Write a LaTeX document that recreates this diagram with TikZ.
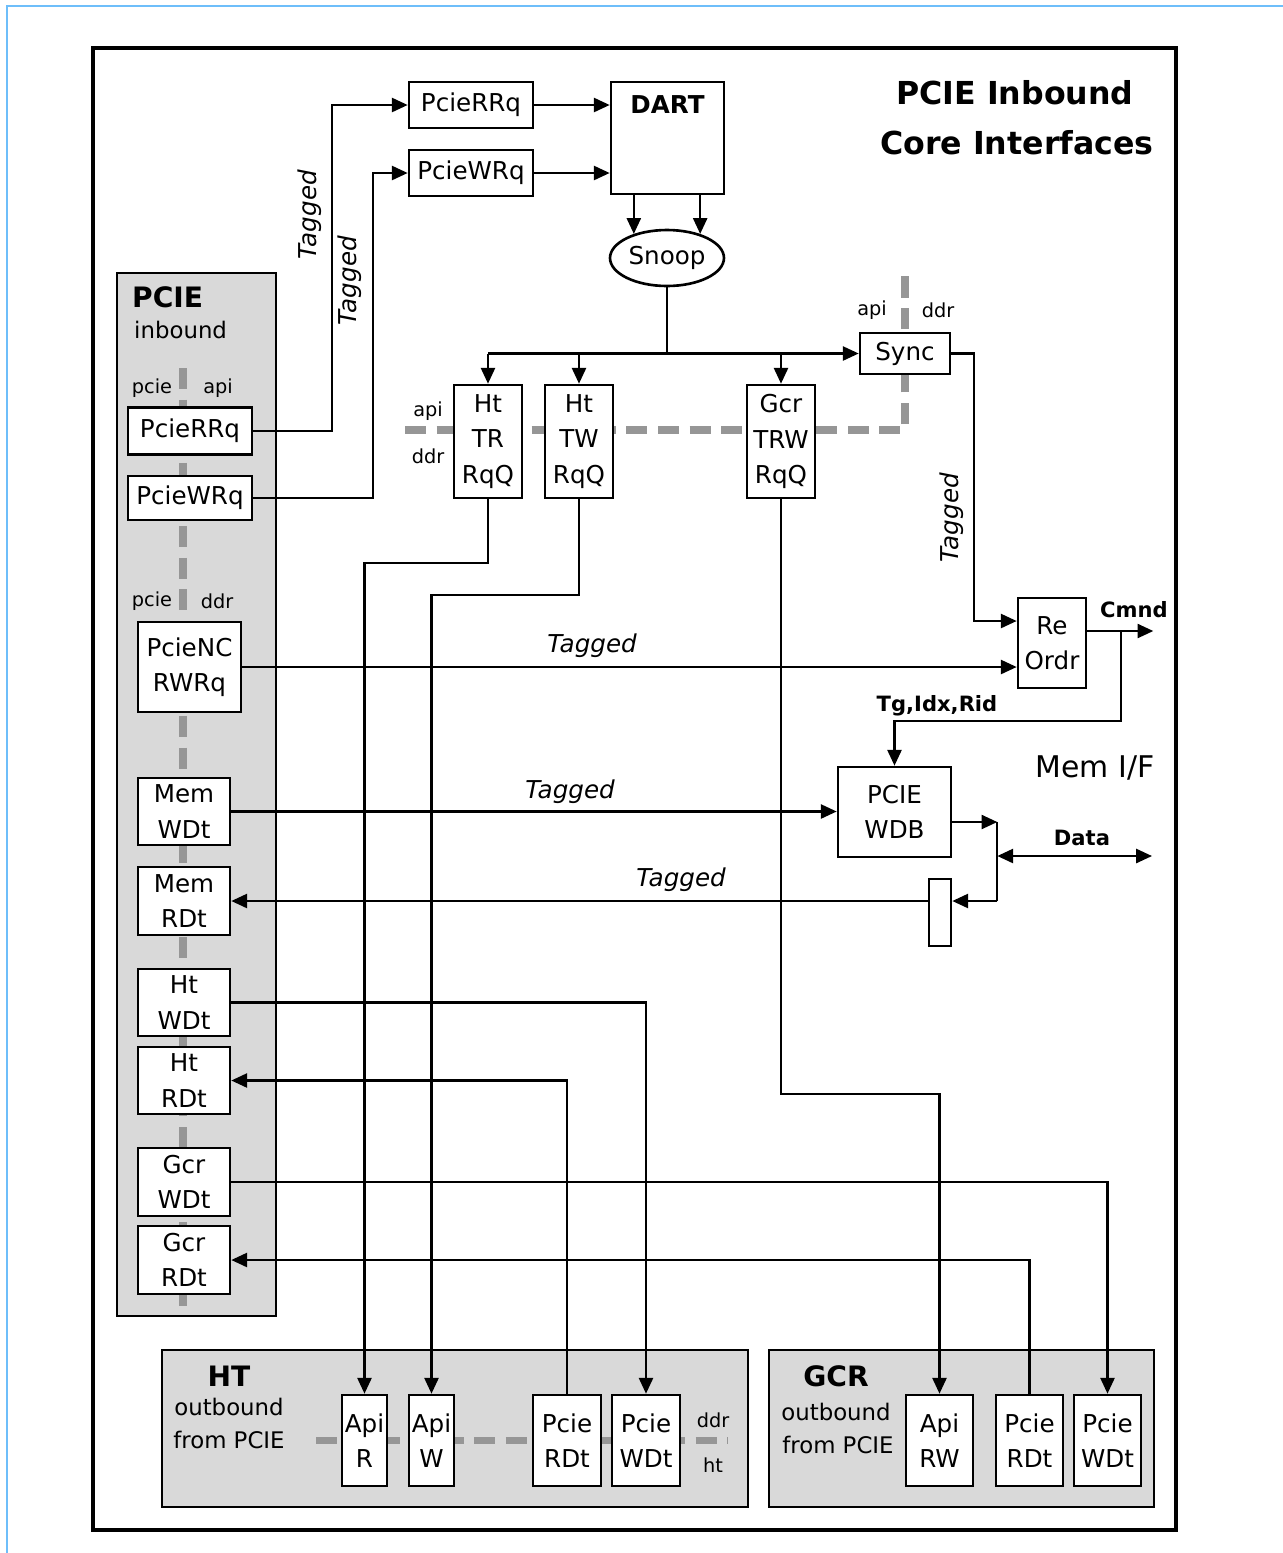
\documentclass[tikz,border=0pt]{standalone}
\usepackage{fontspec}
\setmainfont{DejaVu Sans}
\usepackage{xcolor}
\usetikzlibrary{shapes.geometric, arrows.meta, positioning, calc}
\definecolor{panelgray}{RGB}{217,217,217}
\definecolor{divgray}{RGB}{150,150,150}
\definecolor{edgeblue}{RGB}{110,190,250}

\begin{document}
\begin{tikzpicture}[x=0.02cm, y=-0.02cm,
  box/.style={draw, line width=1.5pt, fill=white, inner sep=0pt, align=center, font=\fontsize{14}{20}\selectfont},
  panel/.style={draw, line width=1.5pt, fill=panelgray},
  wire/.style={line width=1.3pt},
  arr/.style={wire, -{Triangle[length=9pt,width=8pt]}},
  divider/.style={divgray, line width=4pt, dash pattern=on 12pt off 6pt},
  side/.style={font=\fontsize{11}{13}\selectfont},
  tag/.style={font=\fontsize{14}{16}\selectfont\itshape},
  sig/.style={font=\fontsize{12}{14}\selectfont\bfseries},
  grp/.style={font=\fontsize{13}{15}\selectfont}]
  \useasboundingbox (0,0) rectangle (1283,1553);
  % Page edges and frame
  \draw[edgeblue, line width=1.2pt] (7,1553) -- (7,6) -- (1283,6);
  \draw[line width=1.8pt] (93,48) rectangle (1176,1530);

  % Regions
  \draw[panel] (117,273) rectangle (276,1316);
  \draw[panel] (162,1350) rectangle (748,1507);
  \draw[panel] (769,1350) rectangle (1154,1507);

  % Clock domain boundaries
  \draw[divider] (183,368) -- (183,1310);
  \draw[divider] (405,430) -- (905,430) -- (905,268);
  \draw[divider] (316,1440) -- (728,1440);

  % Title
  \node[font=\fontsize{18}{22}\selectfont\bfseries] (title1) at (1015,93) {PCIE Inbound};
  \node[font=\fontsize{18}{22}\selectfont\bfseries] (title2) at (1017,143) {Core Interfaces};

  % PCIE inbound column
  \node[font=\fontsize{16}{18}\selectfont\bfseries, anchor=west] (pcieT) at (126,297) {PCIE};
  \node[grp, anchor=west] (pcieS) at (128,330) {inbound};
  \node[side] (s1) at (152,388) {pcie};
  \node[side] (s2) at (218,388) {api};
  \node[side] (s3) at (152,601) {pcie};
  \node[side] (s4) at (217,601) {ddr};
  \node[box, minimum width=2.48cm, minimum height=0.94cm] (lRRq) at (190,431) {PcieRRq};
  \node[box, minimum width=2.48cm, minimum height=0.88cm] (lWRq) at (190,498) {PcieWRq};
  \node[box, minimum width=2.06cm, minimum height=1.8cm] (lNC) at (189.5,667) {PcieNC\\RWRq};
  \node[box, minimum width=1.84cm, minimum height=1.34cm] (memW) at (184,811.5) {Mem\\WDt};
  \node[box, minimum width=1.84cm, minimum height=1.36cm] (memR) at (184,901) {Mem\\RDt};
  \node[box, minimum width=1.84cm, minimum height=1.34cm] (htW) at (184,1002.5) {Ht\\WDt};
  \node[box, minimum width=1.84cm, minimum height=1.34cm] (htR) at (184,1080.5) {Ht\\RDt};
  \node[box, minimum width=1.84cm, minimum height=1.36cm] (gcrW) at (184,1182) {Gcr\\WDt};
  \node[box, minimum width=1.84cm, minimum height=1.36cm] (gcrR) at (184,1260) {Gcr\\RDt};

  % Address path
  \node[box, minimum width=2.48cm, minimum height=0.92cm] (tRRq) at (471,105) {PcieRRq};
  \node[box, minimum width=2.48cm, minimum height=0.92cm] (tWRq) at (471,173) {PcieWRq};
  \node[box, minimum width=2.26cm, minimum height=2.24cm] (dart) at (667.5,138) {};
  \node[font=\fontsize{14}{16}\selectfont\bfseries] (dartT) at ($(dart.north)+(0,24)$) {DART};
  \node[box, ellipse, minimum width=2.28cm, minimum height=1.12cm] (snoop) at (667,258) {Snoop};
  \node[box, minimum width=1.8cm, minimum height=0.82cm] (sync) at (905,353.5) {Sync};
  \node[box, minimum width=1.36cm, minimum height=2.26cm] (htTR) at (488,441.5) {Ht\\TR\\RqQ};
  \node[box, minimum width=1.36cm, minimum height=2.26cm] (htTW) at (579,441.5) {Ht\\TW\\RqQ};
  \node[box, minimum width=1.36cm, minimum height=2.26cm] (gcrTRW) at (781,441.5) {Gcr\\TRW\\RqQ};
  \node[side] (s5) at (428,411) {api};
  \node[side] (s6) at (428,456) {ddr};
  \node[side] (s7) at (872,310) {api};
  \node[side] (s8) at (938,310) {ddr};

  % Memory side
  \node[box, minimum width=1.36cm, minimum height=1.8cm] (reordr) at (1052,643) {Re\\Ordr};
  \node[box, minimum width=2.26cm, minimum height=1.8cm] (wdb) at (894.5,812) {PCIE\\WDB};
  \node[box, minimum width=0.44cm, minimum height=1.34cm] (rdq) at (940,912.5) {};
  \node[font=\fontsize{17}{20}\selectfont] (memif) at (1095,768) {Mem I/F};

  % HT outbound
  \node[font=\fontsize{16}{18}\selectfont\bfseries] (htT) at (229,1376) {HT};
  \node[grp] (htS1) at (229,1407) {outbound};
  \node[grp] (htS2) at (229,1440) {from PCIE};
  \node[side] (s9) at (713,1420) {ddr};
  \node[side] (s10) at (713,1465) {ht};
  \node[box, minimum width=0.9cm, minimum height=1.82cm] (apiR) at (364.5,1440.5) {Api\\R};
  \node[box, minimum width=0.9cm, minimum height=1.82cm] (apiW) at (431.5,1440.5) {Api\\W};
  \node[box, minimum width=1.36cm, minimum height=1.82cm] (htPR) at (567,1440.5) {Pcie\\RDt};
  \node[box, minimum width=1.36cm, minimum height=1.82cm] (htPW) at (646,1440.5) {Pcie\\WDt};

  % GCR outbound
  \node[font=\fontsize{16}{18}\selectfont\bfseries] (gcT) at (836,1376) {GCR};
  \node[grp] (gcS1) at (836,1412) {outbound};
  \node[grp] (gcS2) at (838,1445) {from PCIE};
  \node[box, minimum width=1.34cm, minimum height=1.82cm] (apiRW) at (939.5,1440.5) {Api\\RW};
  \node[box, minimum width=1.34cm, minimum height=1.82cm] (gcPR) at (1029.5,1440.5) {Pcie\\RDt};
  \node[box, minimum width=1.34cm, minimum height=1.82cm] (gcPW) at (1107.5,1440.5) {Pcie\\WDt};

  % Requests into DART and snoop
  \draw[arr] (lRRq.east) -- ++(79,0) |- (tRRq.west);
  \draw[arr] (lWRq.east) -- ++(120,0) |- (tWRq.west);
  \draw[arr] (tRRq.east) -- (dart.west |- tRRq.east);
  \draw[arr] (tWRq.east) -- (dart.west |- tWRq.east);
  \draw[arr] (snoop.144 |- dart.south) -- (snoop.144);
  \draw[arr] (snoop.36 |- dart.south) -- (snoop.36);
  \coordinate (bus) at (snoop.south |- sync.west);
  \draw[wire] (snoop.south) -- (bus);
  \draw[arr] (htTR.north |- bus) -- (sync.west);
  \draw[arr] (htTR.north |- bus) -- (htTR.north);
  \draw[arr] (htTW.north |- bus) -- (htTW.north);
  \draw[arr] (gcrTRW.north |- bus) -- (gcrTRW.north);

  % Reorder and write data buffer
  \draw[arr] (sync.east) -- ++(23,0) |- ($(reordr.west)+(0,-22)$);
  \draw[arr] (lNC.east) -- (lNC.east -| reordr.west);
  \draw[arr] ($(reordr.east)+(0,-12)$) -- ++(66,0) coordinate (cmnd);
  \coordinate (tap) at ($(reordr.east)+(34,-12)$);
  \draw[arr] (tap) -- ++(0,90) -| (wdb.north);
  \draw[arr] (memW.east) -- (memW.east -| wdb.west);
  \draw[arr] ($(wdb.east)+(0,10)$) -- ++(45,0) coordinate (join);
  \draw[wire] (join) -- ++(0,79) coordinate (jbot);
  \draw[arr] (jbot) -- (jbot -| rdq.east);
  \coordinate (data) at (1152,856);
  \draw[wire, {Triangle[length=9pt,width=8pt]}-{Triangle[length=9pt,width=8pt]}] (data -| join) -- (data);
  \draw[arr] (rdq.west |- jbot) -- (memR.east |- jbot);

  % Outbound paths
  \draw[arr] (htTR.south) -- ++(0,64) -| (apiR.north);
  \draw[arr] (htTW.south) -- ++(0,96) -| (apiW.north);
  \draw[arr] (gcrTRW.south) -- ++(0,595) -| (apiRW.north);
  \draw[arr] (htW.east) -| (htPW.north);
  \draw[arr] (htPR.north) |- (htR.east);
  \draw[arr] (gcrW.east) -| (gcPW.north);
  \draw[arr] (gcPR.north) |- (gcrR.east);

  % Labels
  \node[tag, rotate=90] (t1) at (310,215) {Tagged};
  \node[tag, rotate=90] (t2) at (350,281) {Tagged};
  \node[tag, rotate=90] (t3) at (952,518) {Tagged};
  \node[tag] (t4) at (592,646) {Tagged};
  \node[tag] (t5) at (570,792) {Tagged};
  \node[tag] (t6) at (681,880) {Tagged};
  \node[sig] (l1) at (1134,610) {Cmnd};
  \node[sig] (l2) at (937,706) {Tg,Idx,Rid};
  \node[sig] (l3) at (1082,838) {Data};
\end{tikzpicture}
\end{document}
